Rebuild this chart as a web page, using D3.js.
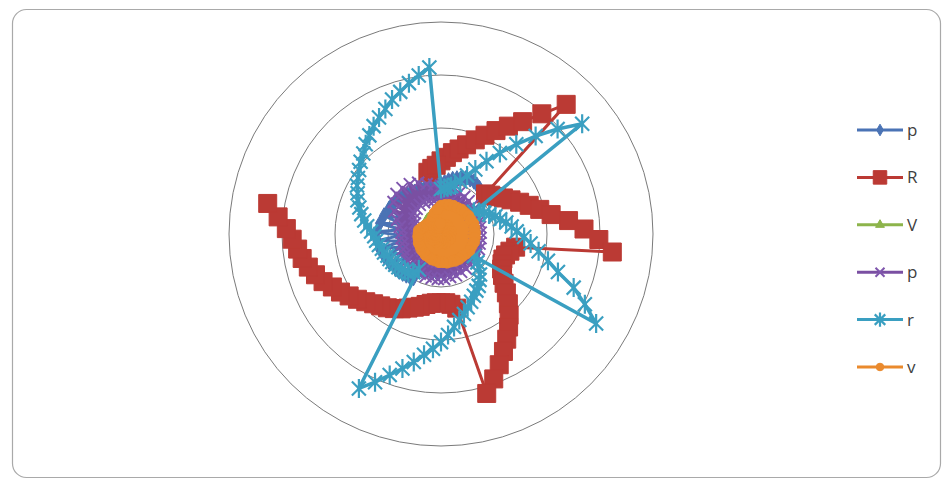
<!DOCTYPE html>
<html>
<head>
<meta charset="utf-8">
<script src="https://cdn.jsdelivr.net/npm/d3@7"></script>
<style>
  body { margin: 0; background: #fff; }
  svg { display: block; font-family: "Open Sans", "Liberation Sans", sans-serif; }
</style>
</head>
<body>
<div id="chart"></div>
<script>
const width = 949;
const height = 481;

// 90 categories round the radar, 4 degrees apart, first one at 12 o'clock
const categories = d3.range(1, 91);
const ringTicks = [1, 2, 3, 4];

const seriesNames = ["p", "R", "V", "p", "r", "v"];
const seriesColors = ["#4a73b5", "#bb3a34", "#8db44b", "#7a4fa2", "#3a9fc1", "#ea8a2d"];

// values, one per category
const pBlueValues = [
    0.94, 0.98, 1.02, 1.06, 1.09, 1.13, 1.15, 1.17, 1.17, 1.15, 1.13, 1.09, 1.06, 1.02,
    0.55, 0.56, 0.57, 0.58, 0.58, 0.59, 0.60, 0.61, 0.62, 0.63, 0.64, 0.66, 0.68, 0.70, 0.72, 0.74, 0.76,
    0.55, 0.56, 0.57, 0.58, 0.59, 0.60, 0.61, 0.62, 0.63, 0.64, 0.65, 0.66, 0.67, 0.68, 0.69, 0.70, 0.71, 0.72, 0.73, 0.74, 0.76, 0.78,
    0.98, 1.00, 1.02, 1.04, 1.06, 1.08, 0.80, 1.11, 0.78, 1.15, 0.76, 1.19, 0.76, 1.21, 0.76, 1.21, 0.76, 1.17, 0.78,
    1.13, 0.80, 1.09, 1.08, 1.06, 1.04, 1.02, 1.00, 0.98, 0.96, 0.94, 0.94, 0.92, 0.92, 0.91, 0.91, 0.92, 0.92,
];

const rRedValues = [
    1.38, 1.45, 1.55, 1.64, 1.75, 1.89, 2.04, 2.21, 2.40, 2.62, 2.96, 3.40,
    1.13, 1.19, 1.26, 1.36, 1.47, 1.60, 1.75, 1.92, 2.11, 2.42, 2.70, 2.98, 3.25,
    1.43, 1.34, 1.28, 1.26, 1.28, 1.32, 1.40, 1.51, 1.66, 1.83, 2.00, 2.17, 2.34, 2.51, 2.70, 2.91, 3.13,
    1.43, 1.34, 1.30, 1.30, 1.30, 1.32, 1.36, 1.42, 1.47, 1.53, 1.60, 1.66, 1.72, 1.77, 1.83,
    1.91, 2.00, 2.09, 2.19, 2.28, 2.40, 2.49, 2.58, 2.66, 2.72, 2.81, 2.92, 3.09, 3.32,
    null, null, null, null, null, null, null, null, null, null, null, null, null, null, null, null,
    1.19, 1.25, 1.30,
];

const vGreenValues = [
    0.12, 0.16, 0.20, 0.24, 0.28, 0.32, 0.35, 0.38, 0.41, 0.43, 0.45, 0.46, 0.47, 0.48,
    0.12, 0.16, 0.20, 0.24, 0.28, 0.32, 0.35, 0.38, 0.41, 0.43, 0.45, 0.46, 0.47, 0.48, 0.48, 0.47, 0.46,
    0.12, 0.15, 0.18, 0.21, 0.24, 0.27, 0.30, 0.32, 0.34, 0.36, 0.37, 0.38, 0.39, 0.40, 0.40, 0.40, 0.39, 0.39, 0.38, 0.38, 0.39, 0.40,
    0.12, 0.15, 0.18, 0.21, 0.24, 0.27, 0.29, 0.30, 0.31, 0.32, 0.32, 0.33, 0.33, 0.33, 0.33, 0.33, 0.33, 0.33, 0.33,
    0.34, 0.34, 0.34, 0.35, 0.35, 0.36, 0.36, 0.37, 0.37, 0.37, 0.38, 0.38, 0.38, 0.38, 0.38, 0.38, 0.38, 0.38,
];

const pPurpleValues = [
    0.91, 0.60, 0.89, 0.58, 0.87, 0.57, 0.85, 0.55, 0.83, 0.53, 0.81, 0.51, 0.79, 0.49, 0.77, 0.47, 0.75, 0.47,
    0.75, 0.47, 0.75, 0.47, 0.75, 0.47, 0.75, 0.47, 0.75, 0.49, 0.77, 0.49, 0.77, 0.51, 0.79, 0.51, 0.79, 0.53,
    0.81, 0.53, 0.81, 0.53, 0.83, 0.53, 0.83, 0.53, 0.85, 0.53, 0.85, 0.53, 0.85, 0.53, 0.85, 0.53, 0.85, 0.51,
    0.85, 0.49, 0.83, 0.47, 0.81, 0.47, 0.79, 0.45, 0.77, 0.45, 0.75, 0.45, 0.75, 0.45, 0.75, 0.45, 0.79, 0.47,
    0.87, 0.53, 0.98, 0.58, 1.08, 0.64, 1.13, 0.66, 1.13, 0.68, 1.11, 0.68, 1.06, 0.66, 0.98, 0.64, 0.94, 0.62,
];

const rTealValues = [
    0.85, 0.87, 0.89, 0.92, 0.96, 1.06, 1.21, 1.38, 1.62, 1.89, 2.21, 2.57, 2.96, 3.38,
    0.75, 0.83, 0.91, 0.98, 1.08, 1.15, 1.25, 1.34, 1.43, 1.57, 1.70, 1.87, 2.08, 2.32, 2.70, 3.02, 3.38,
    0.75, 0.87, 0.96, 1.06, 1.13, 1.21, 1.26, 1.32, 1.40, 1.47, 1.57, 1.66, 1.77, 1.91, 2.04, 2.17, 2.30, 2.47, 2.64, 2.83, 3.06, 3.30,
    0.79, 0.89, 0.96, 0.98, 1.00, 1.02, 1.04, 1.06, 1.08, 1.09, 1.13, 1.15, 1.19, 1.23, 1.26, 1.32, 1.40, 1.47, 1.55,
    1.62, 1.70, 1.75, 1.83, 1.89, 1.96, 2.04, 2.11, 2.21, 2.30, 2.40, 2.49, 2.58, 2.70, 2.79, 2.91, 3.02, 3.15,
];

const vOrangeValues = [
    0.53, 0.14, 0.55, 0.18, 0.57, 0.12, 0.58, 0.16, 0.58, 0.20, 0.60, 0.14, 0.60, 0.18, 0.62, 0.12, 0.62, 0.16,
    0.64, 0.20, 0.64, 0.14, 0.64, 0.18, 0.64, 0.12, 0.64, 0.16, 0.62, 0.20, 0.62, 0.14, 0.60, 0.18, 0.58, 0.12,
    0.58, 0.16, 0.57, 0.20, 0.55, 0.14, 0.55, 0.18, 0.53, 0.12, 0.53, 0.16, 0.51, 0.20, 0.51, 0.14, 0.49, 0.18,
    0.49, 0.12, 0.47, 0.16, 0.47, 0.20, 0.45, 0.14, 0.45, 0.18, 0.43, 0.12, 0.43, 0.16, 0.42, 0.20, 0.42, 0.14,
    0.38, 0.18, 0.34, 0.12, 0.32, 0.16, 0.30, 0.20, 0.30, 0.14, 0.32, 0.18, 0.36, 0.12, 0.42, 0.16, 0.47, 0.20,
];

const seriesValues = [pBlueValues, rRedValues, vGreenValues, pPurpleValues, rTealValues, vOrangeValues];
const seriesMarkers = ["diamond", "square", "triangle", "cross", "star", "circle"];

const center = { x: 441, y: 234 };
const outerRadius = 212;

const svg = d3
    .select("#chart")
    .append("svg")
    .attr("width", width)
    .attr("height", height);

// chart frame
svg.append("rect")
    .attr("x", 12.5)
    .attr("y", 9.5)
    .attr("width", 928)
    .attr("height", 468)
    .attr("rx", 14)
    .attr("fill", "#fff")
    .attr("stroke", "#a9a9a9")
    .attr("stroke-width", 1.2);

const g = svg.append("g").attr("transform", `translate(${center.x}, ${center.y})`);

//Scales
const rScale = d3.scaleLinear().domain([0, 4]).range([0, outerRadius]);
const angle = d3.scaleLinear().domain([0, categories.length]).range([0, 2 * Math.PI]);

// gridline rings
g.selectAll(".ring")
    .data(ringTicks)
    .enter()
    .append("circle")
    .attr("class", "ring")
    .attr("r", (d) => rScale(d))
    .attr("fill", "none")
    .attr("stroke", "#7a7a7a")
    .attr("stroke-width", 1);

const markerPath = (type, k) => {
    switch (type) {
        case "diamond": return d3.symbol(d3.symbolDiamond, 70 * k * k)();
        case "square": return `M${-9 * k},${-9 * k}H${9 * k}V${9 * k}H${-9 * k}Z`;
        case "triangle": return d3.symbol(d3.symbolTriangle, 60 * k * k)();
        case "cross": return `M${-6 * k},${-6 * k}L${6 * k},${6 * k}M${-6 * k},${6 * k}L${6 * k},${-6 * k}`;
        case "star": return `M${-7 * k},${-7 * k}L${7 * k},${7 * k}M${-7 * k},${7 * k}L${7 * k},${-7 * k}M0,${-9.5 * k}V${9.5 * k}`;
        default: return d3.symbol(d3.symbolCircle, 80 * k * k)();
    }
};

const drawMarker = (sel, type, color, k) => {
    const open = type === "cross" || type === "star";
    sel.attr("d", markerPath(type, k))
        .attr("fill", open ? "none" : color)
        .attr("stroke", type === "cross" ? "#7f56ad" : color)
        .attr("stroke-width", type === "cross" ? 2 : type === "star" ? 2.2 : 1);
};

const markerScale = [1, 1, 1, 1, 1, 1.1];
const lineWidths = [3, 3, 3, 4.5, 3.5, 3.5];

const radarLine = d3
    .lineRadial()
    .angle((d) => d.a)
    .radius((d) => rScale(d.v))
    .defined((d) => d.v != null);

seriesValues.forEach((values, s) => {
    const pts = values.map((v, i) => ({ a: angle(i), v: v }));
    // close the loop back to the first category
    const loop = pts.concat([{ a: 2 * Math.PI, v: values[0] }]);
    const color = seriesColors[s];
    const sg = g.append("g").attr("class", `series-${s}`);

    sg.append("path")
        .attr("d", radarLine(loop))
        .attr("fill", "none")
        .attr("stroke", color)
        .attr("stroke-width", lineWidths[s])
        .attr("stroke-linejoin", "round");

    sg.selectAll("path.mark")
        .data(pts.filter((d) => d.v != null))
        .enter()
        .append("path")
        .attr("class", "mark")
        .attr("transform", (d) => `translate(${d3.pointRadial(d.a, rScale(d.v))})`)
        .call(drawMarker, seriesMarkers[s], color, markerScale[s]);
});

// Legend
const legendGroup = svg.append("g").attr("transform", "translate(857, 130)");

seriesNames.forEach((name, i) => {
    const row = legendGroup.append("g").attr("transform", `translate(0, ${i * 47.4})`);
    row.append("line")
        .attr("x1", 0)
        .attr("x2", 46)
        .attr("stroke", seriesColors[i])
        .attr("stroke-width", 3);
    row.append("path")
        .attr("transform", "translate(23, 0)")
        .call(drawMarker, seriesMarkers[i], seriesColors[i], 0.75);
    row.append("text")
        .text(name)
        .attr("x", 50)
        .attr("y", 6)
        .attr("font-size", "17px")
        .attr("fill", "#404040");
});
</script>
</body>
</html>
